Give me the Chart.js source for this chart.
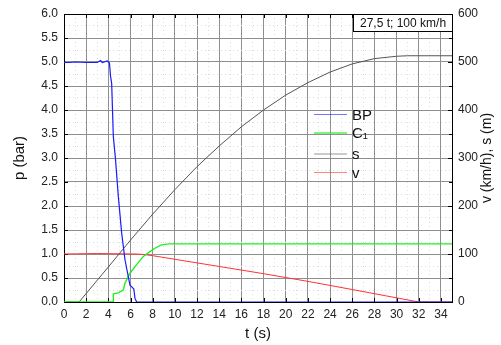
<!DOCTYPE html>
<html><head><meta charset="utf-8">
<script src="https://cdn.jsdelivr.net/npm/chart.js@4/dist/chart.umd.min.js"></script>
<style>html,body{margin:0;padding:0;background:#fff}#wrap{width:501px;height:345px}</style>
</head><body><div id="wrap"><canvas id="c" width="501" height="345"></canvas></div>
<script>
// time (s) and values
const bpT = [0, 0.5, 1, 2, 3, 3.3, 3.45, 3.9, 4.1, 4.2, 4.3, 4.45, 4.65, 4.9, 5.2, 5.5, 5.95, 6.05, 6.3, 6.4, 6.55, 35];
const bpP = [4.99, 4.99, 5.0, 4.99, 4.99, 5.03, 4.99, 5.02, 4.98, 4.7, 4.55, 3.45, 2.96, 2.2, 1.44, 0.88, 0.35, 0.33, 0.27, 0.08, 0, 0];
const c1T = [0, 4.43, 4.45, 4.9, 5.2, 5.35, 5.5, 5.95, 6.55, 7.15, 7.75, 8.2, 8.8, 9.5, 35];
const c1P = [0, 0, 0.17, 0.19, 0.23, 0.25, 0.39, 0.6, 0.78, 0.95, 1.05, 1.12, 1.19, 1.21, 1.21];
const vT = [0, 3, 6.5, 7.2, 8, 10, 14, 18, 22, 26, 29, 32, 35];
const vV = [100, 101, 100, 99, 96.5, 89, 74, 59, 43, 26, 13, 0, 0];
const sT = [0, 1.36, 4, 6, 8, 10, 12, 14, 16, 18, 20, 22, 24, 26, 28, 30, 31, 35];
const sS = [0, 0, 73, 129, 183, 234, 282, 325, 365, 400, 431, 457, 479, 496, 507, 512, 513, 513];
const seriesNames = ['BP', 'C\u2081', 's', 'v'];
const seriesColors = ['#1a1aff', '#22ee22', '#555555', '#ff3333'];
const annotationText = '27,5 t; 100 km/h';
const xTitle = 't (s)', yLeftTitle = 'p (bar)', yRightTitle = 'v (km/h), s (m)';

const pts = (xs, ys) => xs.map((x, i) => ({x, y: ys[i]}));
const FONT = 'Arial, "Liberation Sans", sans-serif';
const isMajorY = v => Math.abs(v * 2 - Math.round(v * 2)) < 1e-6;

const extras = {
  id: 'extras',
  beforeDatasetsDraw(chart) {
    const {ctx, chartArea: a, scales} = chart;
    ctx.save();
    ctx.strokeStyle = '#000'; ctx.lineWidth = 1;
    ctx.beginPath();
    for (let t = 2; t < 35; t += 2) {
      const x = Math.round(scales.x.getPixelForValue(t)) + 0.5;
      ctx.moveTo(x, a.bottom); ctx.lineTo(x, a.bottom - 4);
      ctx.moveTo(x, a.top); ctx.lineTo(x, a.top + 4);
    }
    for (let p = 0.5; p < 6; p += 0.5) {
      const y = Math.round(scales.y.getPixelForValue(p)) + 0.5;
      ctx.moveTo(a.left, y); ctx.lineTo(a.left + 4, y);
    }
    for (let v = 50; v < 600; v += 50) {
      const y = Math.round(scales.y2.getPixelForValue(v)) + 0.5;
      ctx.moveTo(a.right, y); ctx.lineTo(a.right - (v % 100 === 0 ? 4 : 3), y);
    }
    ctx.stroke();
    ctx.strokeRect(Math.round(a.left) + 0.5, Math.round(a.top) + 0.5, Math.round(a.right - a.left), Math.round(a.bottom - a.top));
    ctx.restore();
  },
  afterDraw(chart) {
    const {ctx, chartArea: a} = chart;
    ctx.save();
    ctx.strokeStyle = '#000'; ctx.lineWidth = 1;
    // annotation box
    const bx = 353.5, by = a.top + 0.5, bw = Math.round(a.right) - 353, bh = 17;
    ctx.fillStyle = '#fff'; ctx.fillRect(bx, by, bw, bh);
    ctx.strokeRect(bx, by, bw, bh);
    ctx.fillStyle = '#111'; ctx.font = '12px ' + FONT; ctx.textBaseline = 'middle'; ctx.textAlign = 'left';
    ctx.fillText(annotationText, 360, by + bh / 2 + 1);
    // legend
    const ly = [114.5, 133, 154, 172.5];
    chart.data.datasets.forEach((ds, i) => {
      ctx.strokeStyle = ds.borderColor; ctx.globalAlpha = 0.6; ctx.lineWidth = i === 1 ? 2 : 1;
      ctx.beginPath(); ctx.moveTo(314, ly[i]); ctx.lineTo(347, ly[i]); ctx.stroke();
      ctx.globalAlpha = 1;
      ctx.fillStyle = '#111'; ctx.font = '15px ' + FONT; ctx.textBaseline = 'middle';
      ctx.fillText(ds.label, 352, ly[i] + 1);
    });
    // right axis title (reads bottom to top)
    ctx.save();
    ctx.translate(487, (a.top + a.bottom) / 2);
    ctx.rotate(-Math.PI / 2);
    ctx.textAlign = 'center'; ctx.textBaseline = 'middle';
    ctx.font = '14px ' + FONT; ctx.fillStyle = '#111';
    ctx.fillText(yRightTitle, 0, 0);
    ctx.restore();
    ctx.restore();
  }
};

const mkDs = (label, data, color, axis, width) => ({
  label, data, borderColor: color, backgroundColor: color, yAxisID: axis,
  borderWidth: width, pointRadius: 0, tension: 0, fill: false
});

new Chart(document.getElementById('c'), {
  type: 'line',
  data: {
    datasets: [
      mkDs(seriesNames[0], pts(bpT, bpP), seriesColors[0], 'y', 1.2),
      mkDs(seriesNames[1], pts(c1T, c1P), seriesColors[1], 'y', 1.4),
      mkDs(seriesNames[2], pts(sT, sS), seriesColors[2], 'y2', 1),
      mkDs(seriesNames[3], pts(vT, vV), seriesColors[3], 'y2', 1)
    ]
  },
  options: {
    responsive: false, animation: false, devicePixelRatio: 1,
    layout: {padding: {top: 14, left: 0, right: 0, bottom: 0}},
    plugins: {legend: {display: false}, tooltip: {enabled: false}},
    scales: {
      x: {
        type: 'linear', min: 0, max: 35,
        afterFit: s => { s.height = 43; },
        ticks: {stepSize: 1, includeBounds: false, autoSkip: false, maxRotation: 0, padding: 5,
          color: '#222', font: {family: FONT, size: 12},
          callback: v => (v % 2 === 0 ? String(v) : '')},
        grid: {drawTicks: false, color: c => (c.tick && c.tick.value % 2 === 0 ? '#8f8f8f' : '#dddddd'), lineWidth: 1},
        border: {display: true, color: '#000', dash: c => (c.tick && c.tick.value % 2 === 0 ? [] : [1, 3])},
        title: {display: true, text: xTitle, color: '#111', font: {family: FONT, size: 15}, padding: {top: 0, bottom: 2}}
      },
      y: {
        type: 'linear', position: 'left', min: 0, max: 6,
        afterFit: s => { s.width = 64; },
        ticks: {stepSize: 0.25, includeBounds: false, autoSkip: false, padding: 6,
          color: '#222', font: {family: FONT, size: 12},
          callback: v => (isMajorY(v) ? v.toFixed(1) : '')},
        grid: {drawTicks: false, color: c => (c.tick && isMajorY(c.tick.value) ? '#8f8f8f' : '#dddddd'), lineWidth: 1},
        border: {display: true, color: '#000', dash: c => (c.tick && isMajorY(c.tick.value) ? [] : [1, 3])},
        title: {display: true, text: yLeftTitle, color: '#111', font: {family: FONT, size: 15}, padding: {top: 11, bottom: 0}}
      },
      y2: {
        type: 'linear', position: 'right', min: 0, max: 600,
        afterFit: s => { s.width = 49; },
        ticks: {stepSize: 100, padding: 6, color: '#222', font: {family: FONT, size: 12}},
        grid: {drawTicks: false, drawOnChartArea: false},
        border: {display: true, color: '#000'}
      }
    }
  },
  plugins: [extras]
});
</script></body></html>
